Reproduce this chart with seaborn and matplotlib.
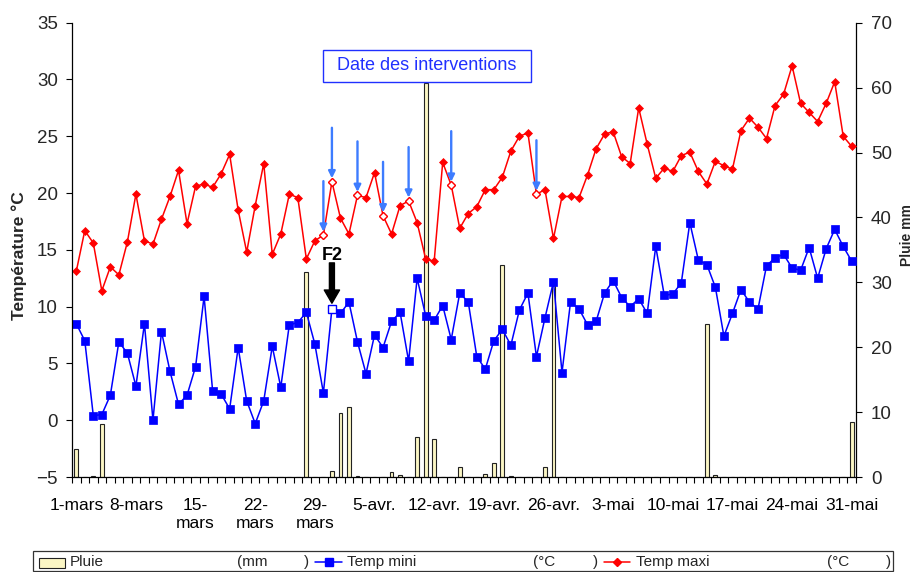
import numpy as np
import pandas as pd
import matplotlib
matplotlib.use("Agg")
import matplotlib.pyplot as plt
from matplotlib.patches import Rectangle
from matplotlib.lines import Line2D
import seaborn as sns

# Daily weather, 1 March - 31 May
tmin = [8.5, 7.0, 0.4, 0.5, 2.2, 6.9, 5.9, 3.0, 8.5, 0.0,
        7.8, 4.3, 1.4, 2.2, 4.7, 10.9, 2.6, 2.3, 1.0, 6.4,
        1.7, -0.3, 1.7, 6.5, 2.9, 8.4, 8.6, 9.5, 6.7, 2.4,
        9.8, 9.4, 10.4, 6.9, 4.1, 7.5, 6.4, 8.7, 9.5, 5.2,
        12.5, 9.2, 8.8, 10.1, 7.1, 11.2, 10.4, 5.6, 4.5, 7.0,
        8.0, 6.6, 9.7, 11.2, 5.6, 9.0, 12.2, 4.2, 10.4, 9.8,
        8.4, 8.7, 11.2, 12.3, 10.8, 10.0, 10.7, 9.4, 15.3, 11.0,
        11.1, 12.1, 17.4, 14.1, 13.7, 11.7, 7.4, 9.4, 11.5, 10.4,
        9.8, 13.6, 14.3, 14.6, 13.4, 13.2, 15.2, 12.5, 15.1, 16.8,
        15.3, 14.0]
tmax = [13.1, 16.7, 15.6, 11.4, 13.5, 12.8, 15.7, 19.9, 15.8, 15.5,
        17.7, 19.7, 22.0, 17.3, 20.6, 20.8, 20.5, 21.7, 23.4, 18.5,
        14.8, 18.9, 22.6, 14.6, 16.4, 19.9, 19.6, 14.2, 15.8, 16.3,
        21.0, 17.8, 16.4, 19.8, 19.6, 21.8, 18.0, 16.4, 18.9, 19.3,
        17.4, 14.2, 14.0, 22.7, 20.7, 16.9, 18.2, 18.8, 20.3, 20.3,
        21.4, 23.7, 25.0, 25.3, 19.9, 20.3, 16.0, 19.7, 19.7, 19.6,
        21.6, 23.9, 25.2, 25.4, 23.2, 22.6, 27.5, 24.3, 21.3, 22.2,
        21.9, 23.3, 23.6, 21.9, 20.8, 22.8, 22.4, 22.1, 25.5, 26.6,
        25.8, 24.8, 27.7, 28.7, 31.2, 27.9, 27.1, 26.3, 27.9, 29.8,
        25.0, 24.1]
pluie = [4.3, 0, 0.1, 8.1, 0, 0, 0, 0, 0, 0,
         0, 0, 0, 0, 0, 0, 0, 0, 0, 0,
         0, 0, 0, 0, 0, 0, 0, 31.6, 0, 0,
         1.0, 9.8, 10.8, 0.1, 0, 0, 0, 0.7, 0.35, 0,
         6.2, 60.7, 5.8, 0, 0, 1.5, 0, 0, 0.5, 2.2,
         32.6, 0.1, 0, 0, 0, 1.5, 30.3, 0, 0, 0,
         0, 0, 0, 0, 0, 0, 0, 0, 0, 0,
         0, 0, 0, 0, 23.5, 0.3, 0, 0, 0, 0,
         0, 0, 0, 0, 0, 0, 0, 0, 0, 0,
         0, 8.4]

date_labels = ["1-mars", "8-mars", "15-\nmars", "22-\nmars", "29-\nmars",
               "5-avr.", "12-avr.", "19-avr.", "26-avr.", "3-mai",
               "10-mai", "17-mai", "24-mai", "31-mai"]
label_days = list(range(0, 92, 7))
interventions = [29, 30, 33, 36, 39, 44, 54]
f2_day = 30

day = np.arange(len(tmin))
df = pd.DataFrame({"jour": day, "tmin": tmin, "tmax": tmax, "pluie": pluie})

sns.set_style("white")
plt.rcParams["font.family"] = ["Liberation Sans", "DejaVu Sans"]

W, H = 920, 572
fig = plt.figure(figsize=(W / 100, H / 100), dpi=100)


def fx(px):
    return px / W


def fy(py):
    return 1 - py / H


ax = fig.add_axes([fx(72), fy(477), (856 - 72) / W, (477 - 22.7) / H])
ax2 = ax.twinx()

RED = "#FF0000"
BLUE = "#0000FF"
BAR = "#FBF6C4"
ARROW = "#3D7CFF"
TITLE_BLUE = "#2030FF"

# rainfall bars on the right axis
sns.barplot(data=df, x="jour", y="pluie", ax=ax2, native_scale=True,
            color=BAR, saturation=1, edgecolor="#222222", linewidth=0.8,
            width=0.45, errorbar=None)

# temperature lines on the left axis
sns.lineplot(data=df, x="jour", y="tmin", ax=ax, color=BLUE, linewidth=1.1,
             marker="s", markersize=5.6, markerfacecolor=BLUE,
             markeredgecolor=BLUE, markeredgewidth=0.5)
sns.lineplot(data=df, x="jour", y="tmax", ax=ax, color=RED, linewidth=1.1,
             marker="D", markersize=3.9, markerfacecolor=RED,
             markeredgecolor=RED, markeredgewidth=0.5)

# open markers on intervention dates
sub = df[df["jour"].isin(interventions)]
ax.plot(sub["jour"], sub["tmax"], linestyle="none", marker="D", markersize=3.9,
        markerfacecolor="white", markeredgecolor=RED, markeredgewidth=1.0,
        zorder=5)
f2 = df[df["jour"] == f2_day]
ax.plot(f2["jour"], f2["tmin"], linestyle="none", marker="s", markersize=5.6,
        markerfacecolor="white", markeredgecolor=BLUE, markeredgewidth=1.0,
        zorder=5)

# arrows marking the interventions
for d in interventions:
    t = tmax[d]
    ax.annotate("", xy=(d, t + 0.3), xytext=(d, t + 4.75),
                arrowprops=dict(arrowstyle="-|>", color=ARROW, lw=1.7,
                                mutation_scale=10, shrinkA=0, shrinkB=0),
                zorder=6)

# F2 arrow
ax.annotate("", xy=(f2_day, tmin[f2_day] + 0.5), xytext=(f2_day, tmin[f2_day] + 4.05),
            arrowprops=dict(facecolor="black", edgecolor="black", width=3.6,
                            headwidth=11, headlength=9.5, shrink=0),
            zorder=6)
ax.text(f2_day, tmin[f2_day] + 4.35, "F2", ha="center", va="baseline",
        fontsize=13, fontweight="bold", color="black", zorder=6)

ax.set_zorder(ax2.get_zorder() + 1)
ax.patch.set_visible(False)

# axes limits and ticks
ax.set_xlim(-0.5, len(day) - 0.5)
ax.set_ylim(-5, 35)
ax2.set_ylim(0, 70)
ax.set_yticks(np.arange(-5, 36, 5))
ax2.set_yticks(np.arange(0, 71, 10))
ax.set_xticks(label_days)
ax.set_xticklabels(date_labels)
ax.set_xticks(np.arange(-0.5, len(day), 1), minor=True)
ax.set_xlabel("")
ax.set_ylabel("")
ax2.set_xlabel("")
ax2.set_ylabel("")

ax.tick_params(axis="x", which="major", length=0, pad=15, labelsize=12.5,
               labelcolor="black")
ax.tick_params(axis="x", which="minor", length=4.5, width=0.8, color="black",
               direction="out", bottom=True)
ax.tick_params(axis="y", which="major", length=4.3, width=0.8, color="black",
               direction="out", pad=5.8, labelsize=13.5, left=True)
ax2.tick_params(axis="y", which="major", length=4.3, width=0.8, color="black",
                direction="out", pad=6.5, labelsize=13.5, right=True)
for lab in ax.get_xticklabels():
    lab.set_linespacing(1.3)

for s in ["top", "right"]:
    ax.spines[s].set_visible(False)
for s in ["top", "left", "bottom"]:
    ax2.spines[s].set_visible(False)
for s in ["left", "bottom"]:
    ax.spines[s].set_color("black")
    ax.spines[s].set_linewidth(0.9)
ax2.spines["right"].set_color("black")
ax2.spines["right"].set_linewidth(0.9)

# axis titles
fig.text(fx(19), fy(256), "Température °C", rotation=90, ha="center",
         va="center", fontsize=12.5, fontweight="bold")
fig.text(fx(907), fy(235), "Pluie mm", rotation=90, ha="center",
         va="center", fontsize=10, fontweight="bold")

# "Date des interventions" box
fig.add_artist(Rectangle((fx(323), fy(82)), (531 - 323) / W, (82 - 50) / H,
                         transform=fig.transFigure, facecolor="white",
                         edgecolor=TITLE_BLUE, linewidth=1.0))
fig.text(fx(427), fy(66), "Date des interventions", ha="center", va="center",
         fontsize=13, color=TITLE_BLUE)

# legend
fig.add_artist(Rectangle((fx(33), fy(571)), (893 - 33) / W, (571 - 551) / H,
                         transform=fig.transFigure, facecolor="white",
                         edgecolor="#333333", linewidth=0.9))
ly = fy(562)
fig.add_artist(Rectangle((fx(39), fy(568)), 26 / W, 10 / H,
                         transform=fig.transFigure, facecolor=BAR,
                         edgecolor="#222222", linewidth=0.8))
fig.add_artist(Line2D([fx(315), fx(342)], [ly, ly], transform=fig.transFigure,
                      color=BLUE, linewidth=1.1))
fig.add_artist(Line2D([fx(328.5)], [ly], transform=fig.transFigure,
                      color=BLUE, marker="s", markersize=5.6, linestyle="none"))
fig.add_artist(Line2D([fx(604), fx(630)], [ly, ly], transform=fig.transFigure,
                      color=RED, linewidth=1.1))
fig.add_artist(Line2D([fx(617)], [ly], transform=fig.transFigure,
                      color=RED, marker="D", markersize=3.9, linestyle="none"))
legend_texts = [(70, "Pluie"), (237, "(mm"), (304, ")"),
                (347, "Temp mini"), (533, "(°C"), (593, ")"),
                (636, "Temp maxi"), (827, "(°C"), (886, ")")]
for px, s in legend_texts:
    fig.text(fx(px), ly, s, ha="left", va="center", fontsize=11)

fig.savefig("out.png", dpi=100)
